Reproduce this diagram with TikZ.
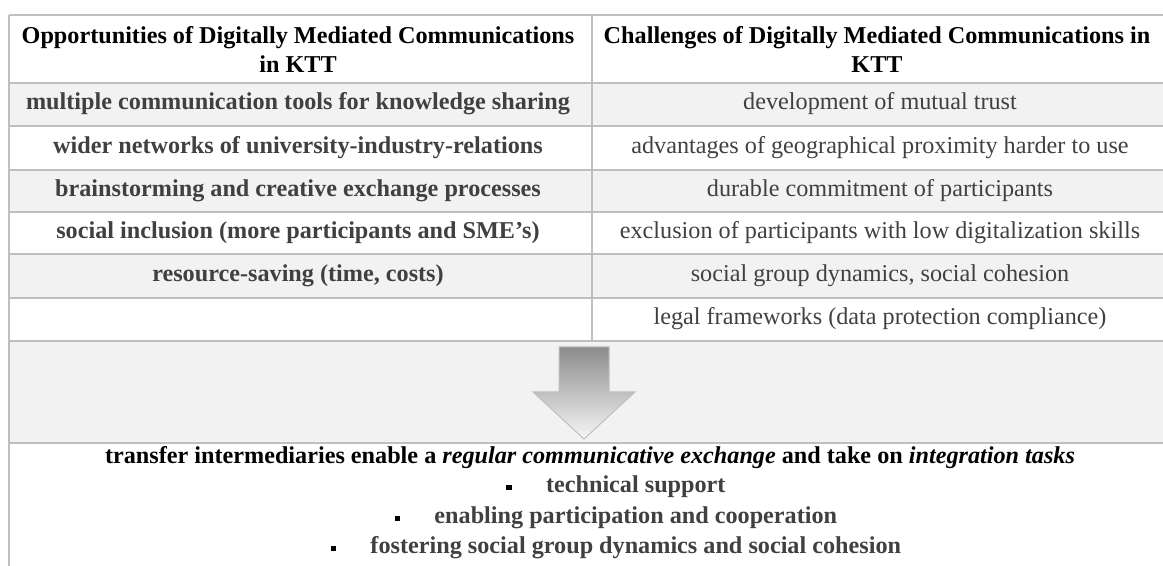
\documentclass[tikz,border=0pt]{standalone}
\usepackage{fontspec}
\setmainfont{Liberation Serif}

\definecolor{rulegray}{HTML}{BFBFBF}
\definecolor{bandgray}{HTML}{F2F2F2}
\definecolor{txtgray}{HTML}{404040}
\definecolor{arrtop}{HTML}{8C8C8C}
\definecolor{arrbot}{HTML}{F6F6F6}

\newcommand{\sqbul}{\textcolor{black}{\rule[1.3pt]{2.8pt}{2.8pt}}\hspace{17pt}}

\begin{document}
\begin{tikzpicture}[x=0.5pt,y=-0.5pt,
	every node/.style={inner sep=0pt,font=\fontsize{12.1}{11.6}\selectfont},
	head/.style={align=center,font=\fontsize{12.1}{14.5}\selectfont\bfseries},
	opp/.style={text=txtgray,font=\fontsize{12.1}{11.6}\selectfont\bfseries},
	chal/.style={text=txtgray},
	item/.style={text=txtgray,font=\fontsize{12.1}{11.6}\selectfont\bfseries},
	grid/.style={draw=rulegray,line width=1pt}]

	\useasboundingbox (0,0) rectangle (1163,566);

	% shaded rows and arrow band
	\fill[bandgray] (9,83) rectangle (1163,126);
	\fill[bandgray] (9,170) rectangle (1163,212);
	\fill[bandgray] (9,254) rectangle (1163,298);
	\fill[bandgray] (9,341) rectangle (1163,443);

	% table rules
	\foreach \y in {15,83,126,170,212,254,298,341,443}
		\draw[grid] (9,\y) -- (1163,\y);
	\draw[grid] (9,15) -- (9,566);
	\draw[grid] (592,15) -- (592,341);

	% Header
	\node[head] (hopp) at (298,49) {Opportunities of Digitally Mediated Communications\\in KTT};
	\node[head] (hchal) at (877,49) {Challenges of Digitally Mediated Communications in\\KTT};

	% Left column: opportunities
	\node[opp] (opp1) at (298,104) {multiple communication tools for knowledge sharing};
	\node[opp] (opp2) at (298,148) {wider networks of university-industry-relations};
	\node[opp] (opp3) at (298,191) {brainstorming and creative exchange processes};
	\node[opp] (opp4) at (298,233) {social inclusion (more participants and SME’s)};
	\node[opp] (opp5) at (298,276) {resource-saving (time, costs)};

	% Right column: challenges
	\node[chal] (chal1) at (880,104) {development of mutual trust};
	\node[chal] (chal2) at (880,148) {advantages of geographical proximity harder to use};
	\node[chal] (chal3) at (880,191) {durable commitment of participants};
	\node[chal] (chal4) at (880,233) {exclusion of participants with low digitalization skills};
	\node[chal] (chal5) at (880,276) {social group dynamics, social cohesion};
	\node[chal] (chal6) at (880,319) {legal frameworks (data protection compliance)};

	% Down arrow
	\shade[top color=arrtop,bottom color=arrbot,draw=rulegray,line width=0.5pt]
		(559,347) -- (609,347) -- (609,392) -- (635,392) -- (584,439)
		-- (533,392) -- (559,392) -- cycle;

	% Result
	\node[font=\fontsize{12.1}{11.6}\selectfont\bfseries] (res) at (590,458)
		{transfer intermediaries enable a \textit{regular communicative exchange} and take on \textit{integration tasks}};
	\node[item] (task1) at (616,487) {\sqbul technical support};
	\node[item] (task2) at (616,518) {\sqbul enabling participation and cooperation};
	\node[item] (task3) at (616,548) {\sqbul fostering social group dynamics and social cohesion};

\end{tikzpicture}
\end{document}
